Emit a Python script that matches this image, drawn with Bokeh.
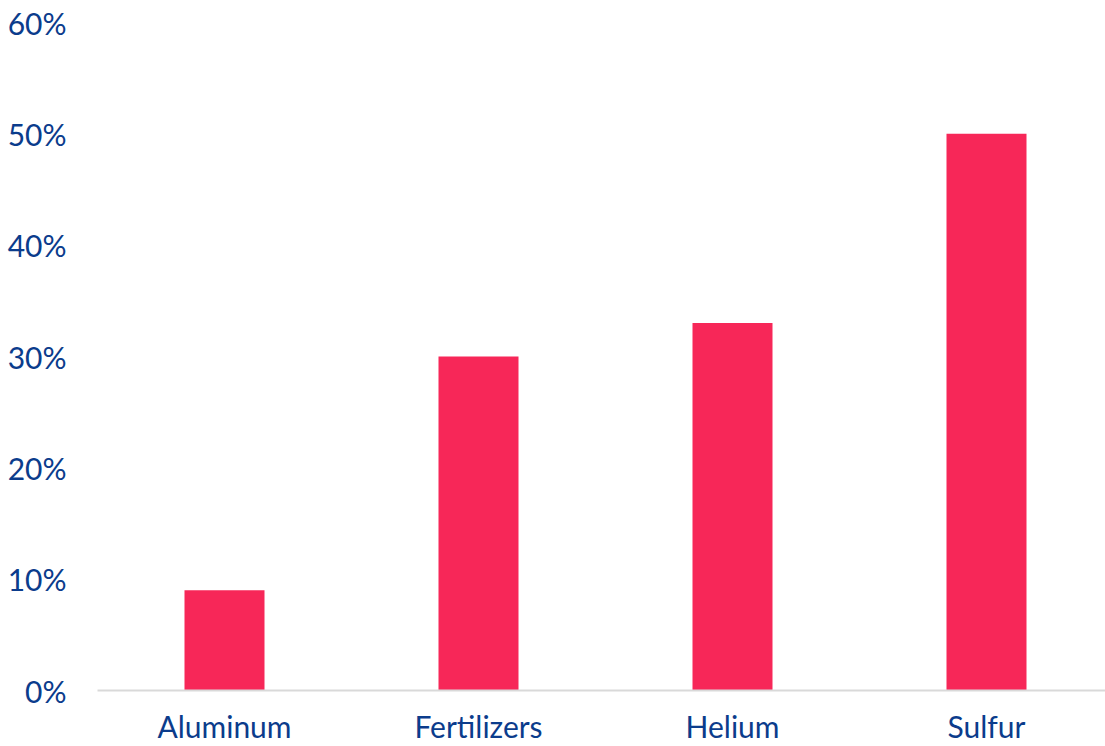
from bokeh.plotting import figure
from bokeh.models import ColumnDataSource, Range1d, FixedTicker, NumeralTickFormatter
from bokeh.embed import file_html
from bokeh.resources import INLINE

categories = ["Aluminum", "Fertilizers", "Helium", "Sulfur"]
values = [0.09, 0.30, 0.33, 0.50]
y_ticks = [0.0, 0.1, 0.2, 0.3, 0.4, 0.5, 0.6]

positions = [i + 0.5 for i in range(len(categories))]
source = ColumnDataSource(data=dict(x=positions, top=values, cat=categories))

TEXT = "#0B3C8C"
BAR = "#F72758"
FONT = "Lato"
LEFT = 97
WIDTH = 1105

p = figure(width=WIDTH, height=746, output_backend="svg", toolbar_location=None,
           x_range=Range1d(0, (WIDTH - LEFT) / 254), y_range=Range1d(0, 0.6),
           min_border_left=LEFT, min_border_right=0, min_border_top=22, min_border_bottom=56)

p.vbar(x="x", top="top", bottom=0, width=80 / 254, source=source,
       fill_color=BAR, line_color=None)

p.outline_line_color = None
p.xgrid.grid_line_color = None
p.ygrid.grid_line_color = None
p.background_fill_color = "white"
p.border_fill_color = "white"

p.xaxis.ticker = FixedTicker(ticks=positions)
p.xaxis.major_label_overrides = {pos: c for pos, c in zip(positions, categories)}
p.xaxis.axis_line_color = "#D9D9D9"
p.xaxis.axis_line_width = 2
p.xaxis.major_tick_line_color = None
p.xaxis.minor_tick_line_color = None
p.xaxis.major_tick_out = 0
p.xaxis.major_tick_in = 0
p.xaxis.major_label_standoff = 17
p.xaxis.major_label_text_font = FONT
p.xaxis.major_label_text_font_size = "30px"
p.xaxis.major_label_text_color = TEXT

p.yaxis.ticker = FixedTicker(ticks=y_ticks)
p.yaxis.formatter = NumeralTickFormatter(format="0%")
p.yaxis.axis_line_color = None
p.yaxis.major_tick_line_color = None
p.yaxis.minor_tick_line_color = None
p.yaxis.major_tick_out = 0
p.yaxis.major_tick_in = 0
p.yaxis.major_label_standoff = 31
p.yaxis.major_label_text_font = FONT
p.yaxis.major_label_text_font_size = "30px"
p.yaxis.major_label_text_color = TEXT

open("out.html", "w").write(file_html(p, INLINE))
